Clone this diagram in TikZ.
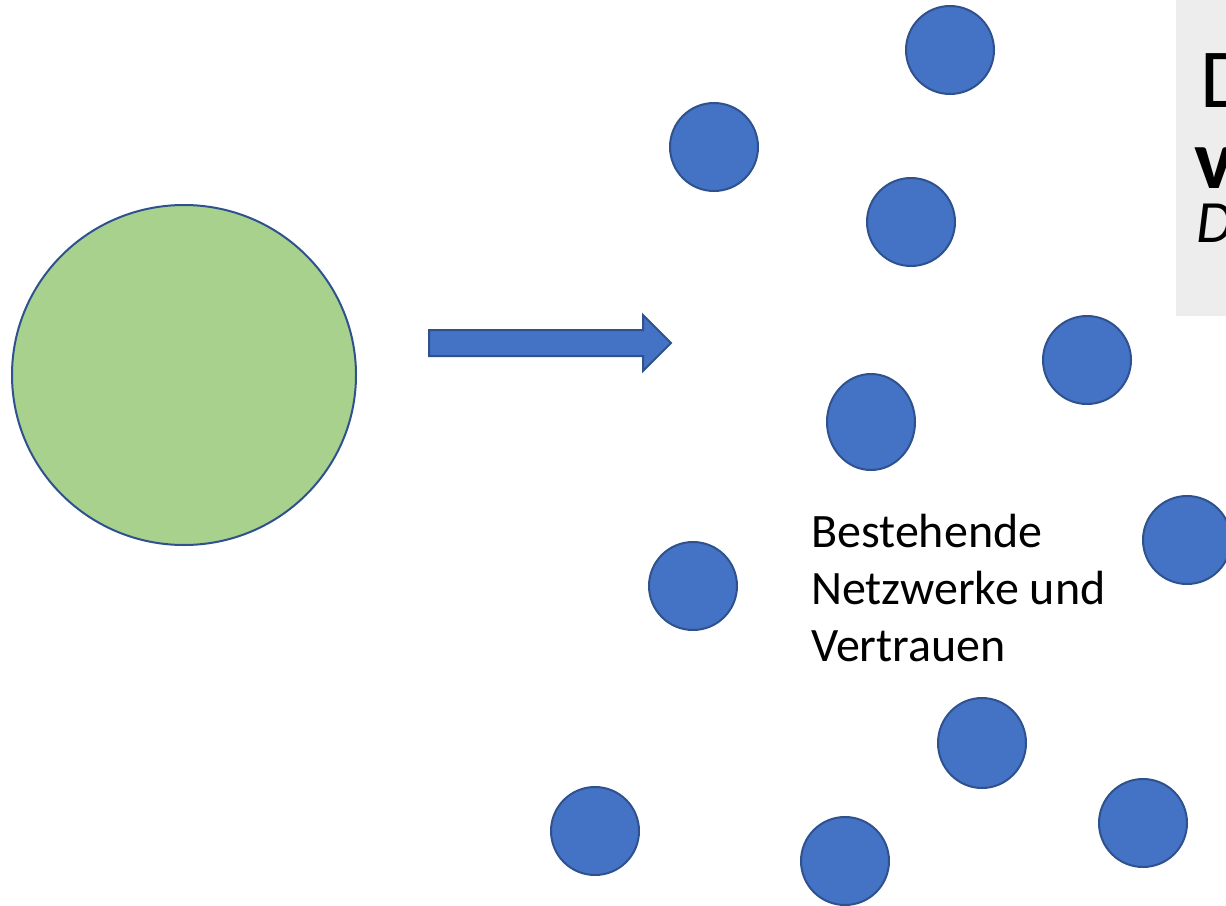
\documentclass[tikz,border=0pt]{standalone}
\usepackage{fontspec}
\setmainfont{Carlito}
\definecolor{dotblue}{HTML}{4472C4}
\definecolor{edgeblue}{HTML}{2F528F}
\definecolor{seedgreen}{HTML}{A9D18E}
\definecolor{panelgray}{HTML}{EDEDED}
\tikzset{
  dot/.style={fill=dotblue, draw=edgeblue, line width=2pt},
  seed/.style={fill=seedgreen, draw=edgeblue, line width=2pt},
  bigarrow/.style={fill=dotblue, draw=edgeblue, line width=2pt},
  label/.style={font=\fontsize{48}{57}\selectfont, align=left, inner sep=0pt, anchor=base west},
  headline/.style={inner sep=0pt, anchor=base west}
}
\begin{document}
\begin{tikzpicture}[x=1pt, y=-1pt]
  \useasboundingbox (0,0) rectangle (1226,905);
  \clip (0,0) rectangle (1226,905);
  \fill[white] (0,0) rectangle (1226,905);

  % title panel at the top right
  \fill[panelgray] (1176,0) rectangle (1240,316);
  \node[headline, font=\fontsize{84}{84}\selectfont] (t1) at (1200,107) {D};
  \node[headline, font=\fontsize{84}{84}\selectfont\bfseries] (t2) at (1194,188) {v};
  \node[headline, font=\fontsize{60}{60}\selectfont\itshape] (t3) at (1196,242) {D};

  % large green circle
  \draw[seed] (184,375) ellipse [x radius=172, y radius=170];
  \coordinate (seedc) at (184,375);

  % block arrow
  \draw[bigarrow] (429,330) -- (643,330) -- (643,315) -- (671,343)
    -- (643,371) -- (643,356) -- (429,356) -- cycle;

  % scattered small circles
  \draw[dot] (950,50) circle [radius=44];
  \draw[dot] (714,147) circle [radius=44];
  \draw[dot] (911,222) circle [radius=44];
  \draw[dot] (1087,360) circle [radius=44];
  \draw[dot] (871,422) ellipse [x radius=44, y radius=48];
  \draw[dot] (1187,540) circle [radius=44];
  \draw[dot] (693,586) circle [radius=44];
  \draw[dot] (982,743) ellipse [x radius=44, y radius=45];
  \draw[dot] (1143,823) circle [radius=44];
  \draw[dot] (595,831) circle [radius=44];
  \draw[dot] (845,861) circle [radius=44];

  % caption (the node's base is the baseline of its last line)
  \node[label] (cap) at (811,661) {Bestehende\\Netzwerke und\\Vertrauen};
\end{tikzpicture}
\end{document}
